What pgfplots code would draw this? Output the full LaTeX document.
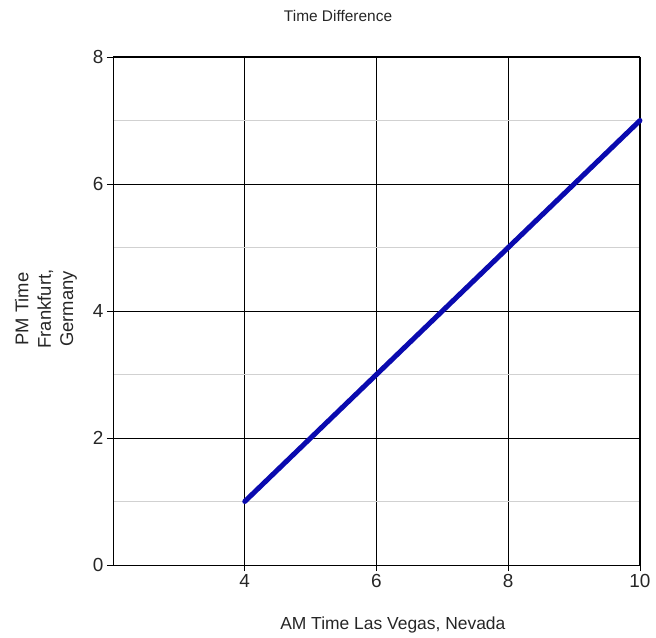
\documentclass[border=0pt]{standalone}
\usepackage{fontspec}
\setmainfont{Liberation Sans}
\usepackage{pgfplots}
\pgfplotsset{compat=1.18}
\usetikzlibrary{calc}
\definecolor{lineblue}{RGB}{10,10,175}

\begin{document}
\begin{tikzpicture}
\begin{axis}[
    scale only axis,
    width=527bp, height=508bp,
    xmin=2, xmax=10, ymin=0, ymax=8,
    xtick={4,6,8,10}, ytick={0,2,4,6,8},
    minor ytick={1,3,5,7},
    tick align=outside, xtick pos=bottom, ytick pos=left,
    major tick length=6bp, minor tick length=0pt,
    xmajorgrids=true, ymajorgrids=true, yminorgrids=true,
    major grid style={black, line width=0.9bp},
    minor grid style={black!18, line width=0.9bp},
    axis line style={black, line width=1bp},
    tick style={black, line width=0.9bp},
    ticklabel style={font=\fontsize{19}{22}\selectfont, text=black!85},
    /pgf/number format/assume math mode=true,
    clip=false,
]
\addplot[lineblue, line width=5bp, line cap=round] coordinates {(4,1) (10,7)};
\coordinate (sw) at (rel axis cs:0,0);
\coordinate (tt) at (rel axis cs:0.427,1);
\coordinate (xl) at (rel axis cs:0.531,0);
\coordinate (yl) at (rel axis cs:0,0.5);
\end{axis}
\node[font=\fontsize{15.5}{18}\selectfont, text=black!85] at ($(tt)+(0,41bp)$) {Time Difference};
\node[font=\fontsize{17.5}{20}\selectfont, text=black!85] at ($(xl)+(0,-60bp)$) {AM Time Las Vegas, Nevada};
\node[font=\fontsize{18.5}{22.5}\selectfont, text=black!85, rotate=90, align=center] at ($(yl)+(-67bp,2bp)$) {PM Time\\Frankfurt,\\Germany};
\pgfresetboundingbox
\path ($(sw)+(-113bp,-73bp)$) rectangle ++(656bp,638bp);
\end{tikzpicture}
\end{document}
